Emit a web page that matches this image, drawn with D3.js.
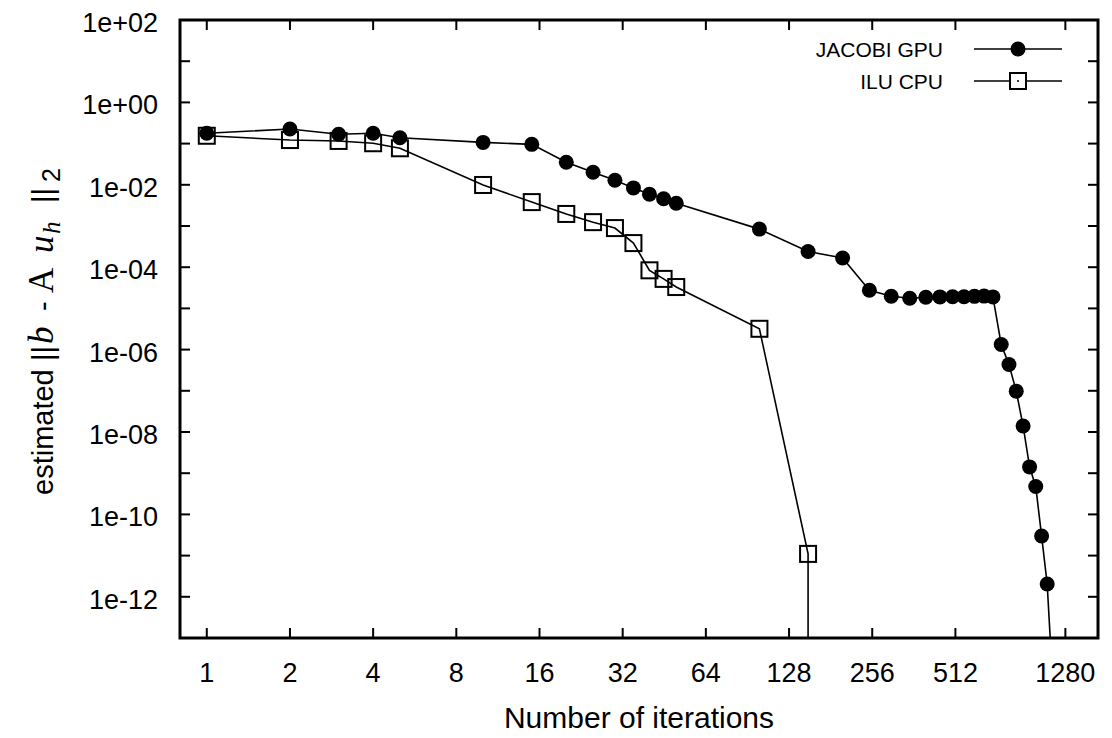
<!DOCTYPE html>
<html>
<head>
<meta charset="utf-8">
<script src="https://cdn.jsdelivr.net/npm/d3@7"></script>
<style>
  body { margin: 0; background: #fff; }
  text { font-family: "Liberation Sans", Arial, Helvetica, sans-serif; fill: #000; }
</style>
</head>
<body>
<svg id="chart" width="1112" height="738"></svg>
<script>
// --- Data ---
const iterTicks = [1, 2, 4, 8, 16, 32, 64, 128, 256, 512, 1280];
const resTicks = [1e2, 1e1, 1e0, 1e-1, 1e-2, 1e-3, 1e-4, 1e-5, 1e-6, 1e-7, 1e-8, 1e-9, 1e-10, 1e-11, 1e-12, 1e-13];
const resLabels = ["1e+02", "1e+00", "1e-02", "1e-04", "1e-06", "1e-08", "1e-10", "1e-12"];
const resLabelValues = [1e2, 1e0, 1e-2, 1e-4, 1e-6, 1e-8, 1e-10, 1e-12];

const jacobiIter = [1, 2, 3, 4, 5, 10, 15, 20, 25, 30, 35, 40, 45, 50, 100, 150, 200,
    250, 300, 350, 400, 450, 500, 550, 600, 650, 700,
    750, 800, 850, 900, 950, 1000, 1050, 1100, 1150];
const jacobiRes = [0.178, 0.226, 0.168, 0.178, 0.139, 0.107, 0.096, 0.0352, 0.0202, 0.0129,
    0.0084, 0.0059, 0.0046, 0.00358, 0.00084, 0.000241, 0.000167,
    2.75e-5, 1.97e-5, 1.76e-5, 1.86e-5, 1.9e-5, 1.92e-5, 1.92e-5, 1.96e-5, 1.99e-5, 1.9e-5,
    1.33e-6, 4.36e-7, 9.8e-8, 1.4e-8, 1.42e-9, 4.76e-10, 3.0e-11, 2.05e-12, 1e-14];

const iluIter = [1, 2, 3, 4, 5, 10, 15, 20, 25, 30, 35, 40, 45, 50, 100, 150, 150];
const iluRes = [0.155, 0.122, 0.116, 0.102, 0.077, 0.0099, 0.0038, 0.00196, 0.00124, 0.00089,
    0.000385, 8.4e-5, 5.2e-5, 3.3e-5, 3.2e-6, 1.1e-11, 1e-16];

const seriesNames = ["JACOBI GPU", "ILU CPU"];

// --- Layout ---
const svg = d3.select("#chart");
const plotLeft = 180, plotRight = 1098, plotTop = 20, plotBottom = 638;

const x = d3.scaleLog().base(2).domain([0.8, 1680]).range([plotLeft, plotRight]);
const y = d3.scaleLog().domain([1e-13, 1e2]).range([plotBottom, plotTop]);

svg.append("defs").append("clipPath").attr("id", "plot-clip")
    .append("rect").attr("x", plotLeft).attr("y", plotTop)
    .attr("width", plotRight - plotLeft).attr("height", plotBottom - plotTop);

// --- Ticks (gnuplot style, inward on all four sides) ---
const tickLen = 10;
const ticks = svg.append("g").attr("stroke", "#000").attr("stroke-width", 2);

iterTicks.forEach(t => {
    ticks.append("line").attr("x1", x(t)).attr("x2", x(t)).attr("y1", plotBottom).attr("y2", plotBottom - tickLen);
    ticks.append("line").attr("x1", x(t)).attr("x2", x(t)).attr("y1", plotTop).attr("y2", plotTop + tickLen);
});
resTicks.forEach(t => {
    ticks.append("line").attr("x1", plotLeft).attr("x2", plotLeft + tickLen).attr("y1", y(t)).attr("y2", y(t));
    ticks.append("line").attr("x1", plotRight).attr("x2", plotRight - tickLen).attr("y1", y(t)).attr("y2", y(t));
});

// tick labels
svg.append("g").selectAll("text")
    .data(iterTicks)
    .join("text")
    .attr("x", d => x(d))
    .attr("y", 682)
    .attr("text-anchor", "middle")
    .attr("font-size", 27)
    .text(d => d);

svg.append("g").selectAll("text")
    .data(resLabelValues)
    .join("text")
    .attr("x", 158)
    .attr("y", d => y(d) + 12)
    .attr("text-anchor", "end")
    .attr("font-size", 27)
    .text((d, i) => resLabels[i]);

// axis titles
svg.append("text")
    .attr("x", (plotLeft + plotRight) / 2)
    .attr("y", 728)
    .attr("text-anchor", "middle")
    .attr("font-size", 30)
    .text("Number of iterations");

// y title: mixed sans / serif math, pieces placed along the rotated baseline
const serif = "Liberation Serif, Times New Roman, serif";
const yTitle = svg.append("text")
    .attr("transform", "translate(53,495) rotate(-90)")
    .attr("font-size", 29);
yTitle.append("tspan").attr("x", 0).text("estimated");
yTitle.append("tspan").attr("x", 134).text("||");
yTitle.append("tspan").attr("x", 151).attr("font-family", serif).attr("font-style", "italic")
    .attr("font-size", 35).text("b");
yTitle.append("tspan").attr("x", 184).text("-");
yTitle.append("tspan").attr("x", 202).attr("font-family", serif).attr("font-size", 35).text("A");
yTitle.append("tspan").attr("x", 242).attr("font-family", serif).attr("font-style", "italic")
    .attr("font-size", 35).text("u");
yTitle.append("tspan").attr("x", 261).attr("dy", 7).attr("font-family", serif).attr("font-style", "italic")
    .attr("font-size", 25).text("h");
yTitle.append("tspan").attr("x", 292).attr("dy", -7).text("||");
yTitle.append("tspan").attr("x", 313).attr("dy", 7).attr("font-size", 25).text("2");

// --- Series ---
const jacobi = jacobiIter.map((it, i) => ({ it, r: jacobiRes[i] }));
const ilu = iluIter.map((it, i) => ({ it, r: iluRes[i] }));

const line = d3.line().x(d => x(d.it)).y(d => y(d.r));
const plot = svg.append("g").attr("clip-path", "url(#plot-clip)");

plot.append("path").datum(ilu)
    .attr("d", line).attr("fill", "none").attr("stroke", "#000").attr("stroke-width", 1.6);
plot.append("path").datum(jacobi)
    .attr("d", line).attr("fill", "none").attr("stroke", "#000").attr("stroke-width", 1.6);

const sq = 16;
const rad = 7.5;
plot.selectAll("rect.ilu")
    .data(ilu)
    .join("rect")
    .attr("class", "ilu")
    .attr("x", d => x(d.it) - sq / 2)
    .attr("y", d => y(d.r) - sq / 2)
    .attr("width", sq).attr("height", sq)
    .attr("fill", "none").attr("stroke", "#000").attr("stroke-width", 2);

plot.selectAll("circle.jac")
    .data(jacobi)
    .join("circle")
    .attr("class", "jac")
    .attr("cx", d => x(d.it))
    .attr("cy", d => y(d.r))
    .attr("r", rad)
    .attr("fill", "#000");

// --- Legend ---
const legend = svg.append("g");
const rows = [49, 81];
rows.forEach((ry, i) => {
    legend.append("text")
        .attr("x", 943).attr("y", ry + 7.5)
        .attr("text-anchor", "end")
        .attr("font-size", 21)
        .text(seriesNames[i]);
    legend.append("line")
        .attr("x1", 974).attr("x2", 1062).attr("y1", ry).attr("y2", ry)
        .attr("stroke", "#000").attr("stroke-width", 1.6);
});
legend.append("circle").attr("cx", 1018).attr("cy", rows[0]).attr("r", rad).attr("fill", "#000");
legend.append("rect").attr("x", 1018 - sq / 2).attr("y", rows[1] - sq / 2)
    .attr("width", sq).attr("height", sq)
    .attr("fill", "#fff").attr("stroke", "#000").attr("stroke-width", 2);
legend.append("circle").attr("cx", 1018).attr("cy", rows[1]).attr("r", 1).attr("fill", "#000");

// --- Border ---
svg.append("rect")
    .attr("x", plotLeft).attr("y", plotTop)
    .attr("width", plotRight - plotLeft).attr("height", plotBottom - plotTop)
    .attr("fill", "none").attr("stroke", "#000").attr("stroke-width", 3);
</script>
</body>
</html>
